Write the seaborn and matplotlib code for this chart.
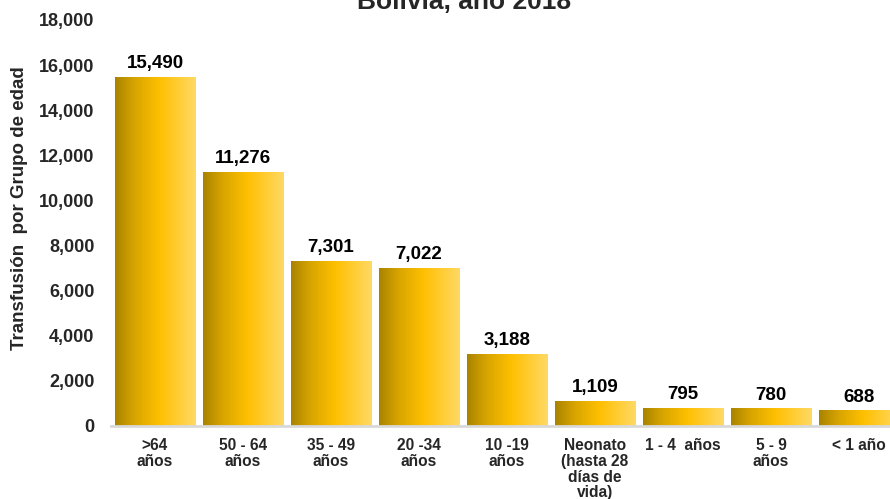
import matplotlib
matplotlib.use("Agg")
import matplotlib.pyplot as plt
import seaborn as sns
import numpy as np
import pandas as pd
from matplotlib.colors import LinearSegmentedColormap

categories = [">64\naños", "50 - 64\naños", "35 - 49\naños", "20 -34\naños", "10 -19\naños",
              "Neonato\n(hasta 28\ndías de\nvida)", "1 - 4  años", "5 - 9\naños", "< 1 año"]
values = [15490, 11276, 7301, 7022, 3188, 1109, 795, 780, 688]
yticks = [0, 2000, 4000, 6000, 8000, 10000, 12000, 14000, 16000, 18000]
title = "Bolivia, año 2018"
ylabel = "Transfusión  por Grupo de edad"

sns.set_style("white")
plt.rcParams['font.family'] = ['Liberation Sans', 'DejaVu Sans']
plt.rcParams['font.weight'] = 'bold'

df = pd.DataFrame({"cat": categories, "val": values})

fig = plt.figure(figsize=(8.9, 4.99), dpi=100)
ax = fig.add_axes([111/890, 73/499, 792/890, 406/499])

sns.barplot(data=df, x="cat", y="val", ax=ax, width=0.91, color="#FFC000",
            edgecolor="none", linewidth=0, saturation=1)

cmap = LinearSegmentedColormap.from_list(
    "gold", [(0.0, "#A98300"), (0.25, "#D9A500"), (0.55, "#FFC000"), (1.0, "#FFD966")])
grad = np.linspace(0, 1, 256).reshape(1, -1)
for p in list(ax.patches):
    x, w, h = p.get_x(), p.get_width(), p.get_height()
    im = ax.imshow(grad, cmap=cmap, extent=[x, x + w, 0, h], aspect="auto",
                   zorder=2, interpolation="bicubic")
    im.set_clip_path(p)

ax.set_xlim(-0.5, len(categories) - 0.5)
ax.set_ylim(0, 18000)

for i, v in enumerate(values):
    ax.annotate(f"{v:,}", (i, v), xytext=(0, 3.5), textcoords="offset points",
                ha="center", va="bottom", fontsize=13.5, fontweight="bold", color="black")

ax.set_yticks(yticks)
ax.set_yticklabels([f"{t:,}" for t in yticks], fontsize=13, fontweight="bold")
ax.set_xticks(range(len(categories)))
ax.set_xticklabels(categories, fontsize=11.2, fontweight="bold", linespacing=1.05, va="top")
ax.tick_params(axis="y", length=0, pad=12)
ax.tick_params(axis="x", length=0, pad=9)
ax.set_xlabel("")
ax.set_ylabel(ylabel, fontsize=13.5, fontweight="bold")
ax.yaxis.set_label_coords(-83/792, (426-208)/406)

for s in ["left", "right", "top"]:
    ax.spines[s].set_visible(False)
ax.spines["bottom"].set_color("#D9D9D9")
ax.spines["bottom"].set_linewidth(2)

fig.text(464/890, 1 - 9/499, title, ha="center", va="baseline",
         fontsize=19, fontweight="bold")

fig.savefig("out.png", dpi=100)
